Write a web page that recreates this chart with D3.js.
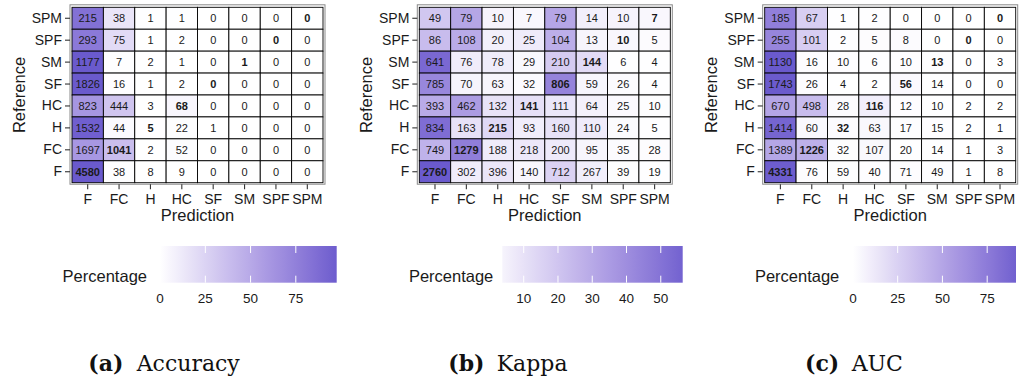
<!DOCTYPE html>
<html>
<head>
<meta charset="utf-8">
<script src="https://cdn.jsdelivr.net/npm/d3@7"></script>
<style>
  html, body { margin: 0; padding: 0; background: #fff; }
  svg { display: block; font-family: "Liberation Sans", Arial, sans-serif; }
</style>
</head>
<body>
<svg id="chart" width="1021" height="380"></svg>
<script>
// ---------------- DATA ----------------
const predictionLabels = ["F", "FC", "H", "HC", "SF", "SM", "SPF", "SPM"];
const referenceLabels = ["SPM", "SPF", "SM", "SF", "HC", "H", "FC", "F"]; // top to bottom

const accuracyCounts = [
  [215, 38, 1, 1, 0, 0, 0, 0],
  [293, 75, 1, 2, 0, 0, 0, 0],
  [1177, 7, 2, 1, 0, 1, 0, 0],
  [1826, 16, 1, 2, 0, 0, 0, 0],
  [823, 444, 3, 68, 0, 0, 0, 0],
  [1532, 44, 5, 22, 1, 0, 0, 0],
  [1697, 1041, 2, 52, 0, 0, 0, 0],
  [4580, 38, 8, 9, 0, 0, 0, 0]
];
const kappaCounts = [
  [49, 79, 10, 7, 79, 14, 10, 7],
  [86, 108, 20, 25, 104, 13, 10, 5],
  [641, 76, 78, 29, 210, 144, 6, 4],
  [785, 70, 63, 32, 806, 59, 26, 4],
  [393, 462, 132, 141, 111, 64, 25, 10],
  [834, 163, 215, 93, 160, 110, 24, 5],
  [749, 1279, 188, 218, 200, 95, 35, 28],
  [2760, 302, 396, 140, 712, 267, 39, 19]
];
const aucCounts = [
  [185, 67, 1, 2, 0, 0, 0, 0],
  [255, 101, 2, 5, 8, 0, 0, 0],
  [1130, 16, 10, 6, 10, 13, 0, 3],
  [1743, 26, 4, 2, 56, 14, 0, 0],
  [670, 498, 28, 116, 12, 10, 2, 2],
  [1414, 60, 32, 63, 17, 15, 2, 1],
  [1389, 1226, 32, 107, 20, 14, 1, 3],
  [4331, 76, 59, 40, 71, 49, 1, 8]
];

const accuracyLegendTicks = [0, 25, 50, 75];
const kappaLegendTicks = [10, 20, 30, 40, 50];
const aucLegendTicks = [0, 25, 50, 75];

const accuracyLegendRange = [0, 97.6];
const kappaLegendRange = [3.75, 56.4];
const aucLegendRange = [0, 91.1];

const captionLetters = ["(a)", "(b)", "(c)"];
const captionNames = ["Accuracy", "Kappa", "AUC"];

// ---------------- LAYOUT ----------------
const panels = [
  { counts: accuracyCounts, ticks: accuracyLegendTicks, lrange: accuracyLegendRange,
    x0: 72, barX: [160.1, 336.7], pctRight: 147, capX: 88.3, capNameX: 136.7 },
  { counts: kappaCounts, ticks: kappaLegendTicks, lrange: kappaLegendRange,
    x0: 419.3, barX: [502.3, 682.7], pctRight: 493.3, capX: 448.3, capNameX: 496.7 },
  { counts: aucCounts, ticks: aucLegendTicks, lrange: aucLegendRange,
    x0: 764.7, barX: [852.9, 1016], pctRight: 839.3, capX: 805, capNameX: 851.7 }
];

const tileW = 251;
const y0 = 7.3, y1 = 182.7;
const textCol = "#1a1a1a";
const highCol = "#6a5acd";

const svg = d3.select("#chart");
const defs = svg.append("defs");

panels.forEach((p, pi) => {
  const g = svg.append("g");
  const x = d3.scaleBand().domain(predictionLabels).range([p.x0, p.x0 + tileW]).padding(0);
  const y = d3.scaleBand().domain(referenceLabels).range([y0, y1]).padding(0);

  // row percentages
  const cells = [];
  p.counts.forEach((row, ri) => {
    const tot = d3.sum(row);
    row.forEach((v, ci) => {
      cells.push({ ref: referenceLabels[ri], pred: predictionLabels[ci], n: v, pct: 100 * v / tot });
    });
  });
  const maxPct = d3.max(cells, d => d.pct);
  const color = d3.scaleLinear().domain([0, maxPct]).range(["#ffffff", highCol])
    .interpolate(d3.interpolateLab).clamp(true);

  // panel border
  g.append("rect")
    .attr("x", p.x0 - 2).attr("y", y0 - 2.5)
    .attr("width", tileW + 4).attr("height", (y1 - y0) + 4)
    .attr("fill", "none").attr("stroke", "#8a8a8a").attr("stroke-width", 1);

  // tiles
  g.selectAll("rect.tile").data(cells).join("rect")
    .attr("class", "tile")
    .attr("x", d => x(d.pred)).attr("y", d => y(d.ref))
    .attr("width", x.bandwidth()).attr("height", y.bandwidth())
    .attr("fill", d => color(d.pct))
    .attr("stroke", "#000").attr("stroke-width", 0.9);

  g.selectAll("text.num").data(cells).join("text")
    .attr("class", "num")
    .attr("x", d => x(d.pred) + x.bandwidth() / 2)
    .attr("y", d => y(d.ref) + y.bandwidth() / 2)
    .attr("dy", "0.36em")
    .attr("text-anchor", "middle")
    .attr("font-size", 11)
    .attr("font-weight", d => d.ref === d.pred ? "bold" : "normal")
    .attr("fill", textCol)
    .text(d => d.n);

  // axes
  const xAxis = g.append("g").attr("transform", `translate(0,${y1 + 1.5})`)
    .call(d3.axisBottom(x).tickSize(5).tickPadding(5));
  const yAxis = g.append("g").attr("transform", `translate(${p.x0 - 2},0)`)
    .call(d3.axisLeft(y).tickSize(5).tickPadding(3));
  [xAxis, yAxis].forEach(a => {
    a.select(".domain").remove();
    a.selectAll(".tick line").attr("stroke", "#333").attr("stroke-width", 1.1);
    a.selectAll(".tick text").attr("fill", textCol).attr("font-size", 14)
      .attr("font-family", "Liberation Sans, Arial, sans-serif");
  });

  // axis titles
  g.append("text")
    .attr("x", p.x0 + tileW / 2).attr("y", 221)
    .attr("text-anchor", "middle").attr("font-size", 16.5).attr("fill", textCol)
    .text("Prediction");
  g.append("text")
    .attr("transform", `translate(${p.x0 - 47.5},${(y0 + y1) / 2}) rotate(-90)`)
    .attr("text-anchor", "middle").attr("font-size", 16.5).attr("fill", textCol)
    .text("Reference");

  // legend
  const lx = d3.scaleLinear().domain(p.lrange).range(p.barX);
  const gradId = "grad" + pi;
  const grad = defs.append("linearGradient").attr("id", gradId)
    .attr("x1", "0%").attr("x2", "100%").attr("y1", "0%").attr("y2", "0%");
  d3.range(0, 1.0001, 0.05).forEach(t => {
    const v = p.lrange[0] + t * (p.lrange[1] - p.lrange[0]);
    grad.append("stop").attr("offset", (t * 100) + "%").attr("stop-color", color(v));
  });
  const barTop = 246, barH = 36.7;
  g.append("rect")
    .attr("x", p.barX[0]).attr("y", barTop)
    .attr("width", p.barX[1] - p.barX[0]).attr("height", barH)
    .attr("fill", `url(#${gradId})`);
  p.ticks.forEach(t => {
    const tx = lx(t);
    g.append("line").attr("x1", tx).attr("x2", tx).attr("y1", barTop).attr("y2", barTop + 7)
      .attr("stroke", "#fff").attr("stroke-width", 1);
    g.append("line").attr("x1", tx).attr("x2", tx).attr("y1", barTop + barH - 7).attr("y2", barTop + barH)
      .attr("stroke", "#fff").attr("stroke-width", 1);
    g.append("text").attr("x", tx).attr("y", 303)
      .attr("text-anchor", "middle").attr("font-size", 13.5).attr("fill", textCol)
      .text(t);
  });
  g.append("text")
    .attr("x", p.pctRight).attr("y", 282)
    .attr("text-anchor", "end").attr("font-size", 16.5).attr("fill", textCol)
    .text("Percentage");

  // caption
  g.append("text")
    .attr("x", p.capX).attr("y", 371)
    .attr("font-family", "DejaVu Serif, serif").attr("font-size", 22)
    .attr("font-weight", "bold").attr("fill", "#111")
    .text(captionLetters[pi]);
  g.append("text")
    .attr("x", p.capNameX).attr("y", 371)
    .attr("font-family", "DejaVu Serif, serif").attr("font-size", 22)
    .attr("fill", "#111")
    .text(captionNames[pi]);
});
</script>
</body>
</html>
